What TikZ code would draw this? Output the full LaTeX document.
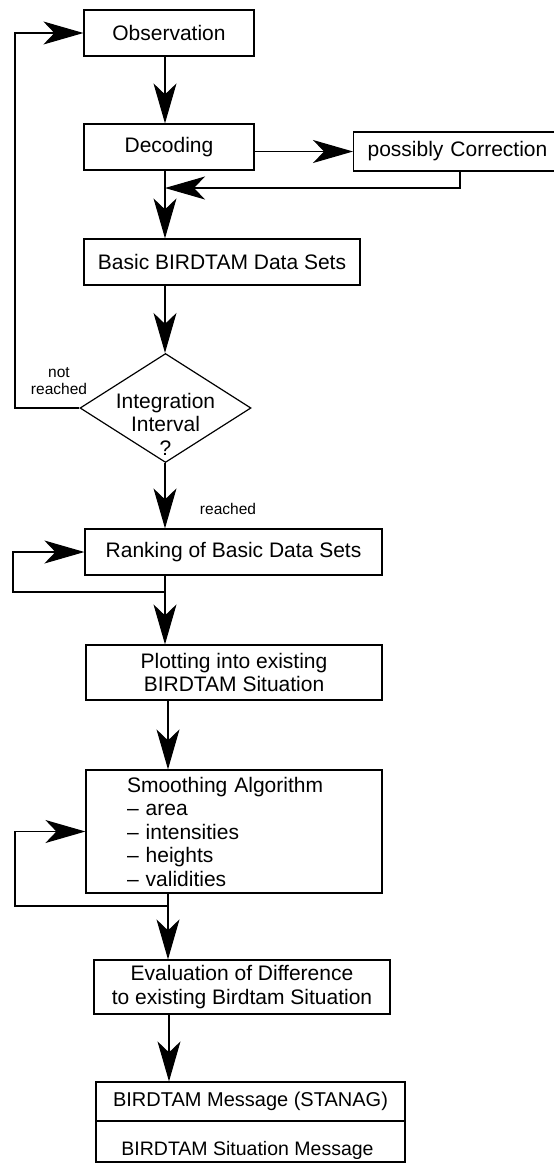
\documentclass[tikz,border=0pt]{standalone}
\usepackage{fontspec}
\setmainfont{Liberation Sans}
\usetikzlibrary{arrows.meta,shapes.geometric}
\tikzset{
  box/.style={draw, line width=1.2pt, inner sep=0pt, align=center,
    font=\fontsize{21}{23.5}\selectfont},
  flow/.style={line width=1.2pt, -{Stealth[length=40pt,width=23pt,inset=11pt]}},
  small/.style={font=\fontsize{15.5}{17}\selectfont, inner sep=0pt, align=center},
  txt/.style={font=\fontsize{21}{23.5}\selectfont, inner sep=0pt, align=center}
}
\begin{document}
\begin{tikzpicture}[x=1pt,y=-1pt]
\useasboundingbox (0,0) rectangle (554,1163);
\clip (0,0) rectangle (554,1163);
\fill[white] (0,0) rectangle (554,1163);
% main column coordinates
\coordinate (m1) at (165,0);
\coordinate (m2) at (168,0);
\coordinate (m3) at (169,0);
% boxes
\node[box, minimum width=170pt, minimum height=46pt] (obs) at (169,33) {Observation};
\node[box, minimum width=170pt, minimum height=46pt] (dec) at (169,147) {Decoding};
\node[box, anchor=west, minimum height=39pt, text width=200pt, inner xsep=14pt, align=left] (cor) at (353,151.5) {possibly Correction};
\node[box, minimum width=276pt, minimum height=46pt] (basic) at (222,262) {Basic BIRDTAM Data Sets};
\node[draw, diamond, line width=1.2pt, minimum width=171pt, minimum height=109pt, inner sep=0pt] (dia) at (165.5,408) {};
\node[txt] (diat) at (165.5,424) {Integration\\Interval\\?};
\node[box, minimum width=297pt, minimum height=46pt] (rank) at (233.5,552) {Ranking of Basic Data Sets};
\node[box, minimum width=296pt, minimum height=55pt] (plot) at (234,672.5) {Plotting into existing\\BIRDTAM Situation};
\node[box, minimum width=296pt, minimum height=123pt, text width=214pt, inner xsep=41pt, align=left] (smooth) at (234,831.5)
  {Smoothing Algorithm\\– area\\– intensities\\– heights\\– validities};
\node[box, minimum width=296pt, minimum height=54pt] (eval) at (242,987) {Evaluation of Difference\\to existing Birdtam Situation};
\node[box, minimum width=309pt, minimum height=39pt, font=\fontsize{20}{23}\selectfont] (msga) at (250.5,1101.5) {BIRDTAM Message (STANAG)};
\node[box, minimum width=309pt, minimum height=41pt] (msgb) at (250.5,1141.5) {};
\node[txt, font=\fontsize{19.5}{22}\selectfont] (msgt) at (247.5,1150) {BIRDTAM Situation Message};
% labels
\node[small] (nr) at (59,381) {not\\reached};
\node[small] (re) at (228,509) {reached};
% helper coordinates
\coordinate (r1) at (460,188);
\coordinate (L1) at (15,408);
\coordinate (R1) at (165,592);
\coordinate (R2) at (13,592);
\coordinate (S1) at (168,906);
\coordinate (S2) at (15,906);
% connectors
\draw[flow] (obs.south -| m1) -- (dec.north -| m1);
\draw[flow] (dec.east |- cor.west) -- (cor.west);
\draw[flow] (cor.south -| r1) -- (r1) -- (r1 -| m1);
\draw[flow] (dec.south -| m1) -- (basic.north -| m1);
\draw[flow] (basic.south -| m1) -- (dia.north -| m1);
\draw[flow] (dia.west) -- (L1) |- (obs.west);
\draw[flow] (dia.south -| m1) -- (rank.north -| m1);
\draw[flow] (rank.south -| R1) -- (R1) -- (R2) |- (rank.west);
\draw[flow] (R1) -- (plot.north -| R1);
\draw[flow] (plot.south -| m2) -- (smooth.north -| m2);
\draw[flow] (smooth.south -| S1) -- (S1) -- (S2) |- (smooth.west);
\draw[flow] (S1) -- (eval.north -| S1);
\draw[flow] (eval.south -| m3) -- (msga.north -| m3);
\end{tikzpicture}
\end{document}
